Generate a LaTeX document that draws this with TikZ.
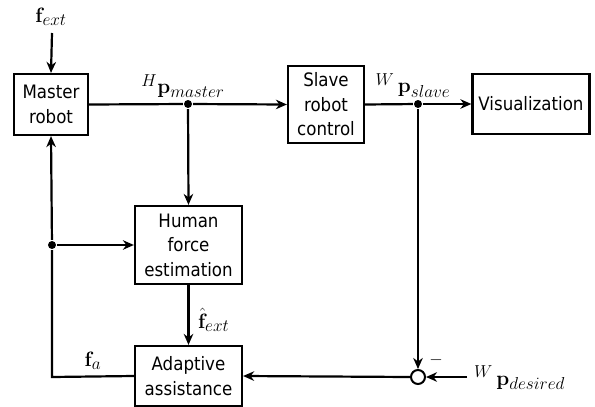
\documentclass[tikz,border=0pt]{standalone}
\usepackage[no-math]{fontspec}
\setmainfont{DejaVu Sans Condensed}
\usetikzlibrary{arrows.meta}
\DeclareMathSizes{22}{22}{18.5}{15}
\begin{document}
\begin{tikzpicture}[x=1pt,y=-1pt,
  line width=2.2pt,
  >={Stealth[length=11pt,width=9.5pt,inset=3.5pt]},
  blockbox/.style={draw,rectangle,inner sep=0pt,align=center,
    font=\fontsize{18.5}{24.5}\selectfont},
  dotpt/.style={circle,fill,inner sep=0pt,minimum size=8pt},
  sumpt/.style={circle,draw,inner sep=0pt,minimum size=14pt,line width=2pt},
  lbl/.style={font=\fontsize{22}{24}\selectfont,inner sep=0pt}]
\useasboundingbox (0,0) rectangle (595,407);

% blocks
\node[blockbox,minimum width=74pt,minimum height=61pt] (master) at (51,104.5) {Master\\robot};
\node[blockbox,minimum width=76pt,minimum height=77pt] (slave) at (326,104.5) {Slave\\robot\\control};
\node[blockbox,minimum width=117pt,minimum height=60pt] (vis) at (531,104) {Visualization};
\node[blockbox,minimum width=107pt,minimum height=78pt] (hfe) at (188.5,245) {Human\\force\\estimation};
\node[blockbox,minimum width=107pt,minimum height=60pt] (ada) at (188.5,376) {Adaptive\\assistance};

% junctions
\node[dotpt] (jm) at (188,104) {};
\node[dotpt] (js) at (418,104) {};
\node[dotpt] (jf) at (52,245) {};
\node[sumpt] (sum) at (418,377) {};
\coordinate (corner) at (52,377);
\coordinate (fin) at (52,33);
\coordinate (pin) at (467,377);

% labels
\node[lbl] (lfext) at (51,17) {$\mathbf{f}_{ext}$};
\node[lbl,anchor=south] (lpm) at (183,99) {$^H\mathbf{p}_{master}$};
\node[lbl,anchor=south] (lps) at (413,98.5) {$^W\,\mathbf{p}_{slave}$};
\node[lbl,anchor=west] (lfhat) at (197,320) {$\hat{\mathbf{f}}_{ext}$};
\node[lbl] (lfa) at (93,361) {$\mathbf{f}_a$};
\node[lbl,font=\fontsize{16}{18}\selectfont] (lminus) at (436,360) {$-$};
\node[lbl,anchor=south west] (lpd) at (473,391) {$^W\,\mathbf{p}_{desired}$};

% connectors
\draw[->] (fin) -- (master.north);
\draw (master.east) -- (jm);
\draw[->] (jm) -- (slave.west);
\draw[->] (jm) -- (hfe.north);
\draw (slave.east) -- (js);
\draw[->] (js) -- (vis.west);
\draw[->] (js) -- (sum.north);
\draw[->] (pin) -- (sum.east);
\draw[->] (sum.west) -- (ada.east);
\draw[->] (hfe.south) -- (ada.north);
\draw (ada.west) -- (corner) -- (jf);
\draw[->] (jf) -- (master.south);
\draw[->] (jf) -- (hfe.west);
\end{tikzpicture}
\end{document}
